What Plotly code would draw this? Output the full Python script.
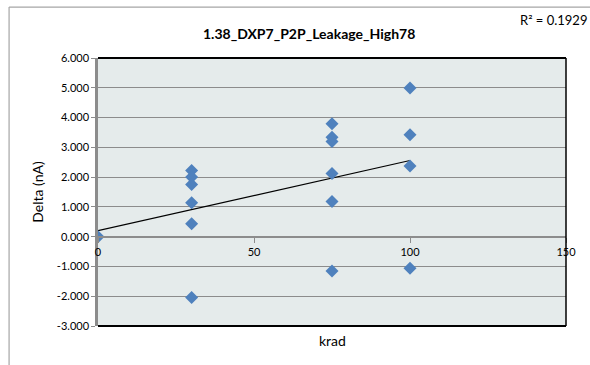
import numpy as np
import plotly.graph_objects as go

# datos
krad = [0, 30, 30, 30, 30, 30, 30, 75, 75, 75, 75, 75, 75, 100, 100, 100, 100]
delta = [0.0, 2.22, 2.0, 1.75, 1.14, 0.43, -2.04,
         3.79, 3.34, 3.2, 2.12, 1.18, -1.15,
         4.99, 3.42, 2.37, -1.06]
y_ticks = [-3, -2, -1, 0, 1, 2, 3, 4, 5, 6]
y_labels = ['-3.000', '-2.000', '-1.000', '0.000', '1.000', '2.000', '3.000', '4.000', '5.000', '6.000']
x_ticks = [0, 50, 100, 150]
titulo = '1.38_DXP7_P2P_Leakage_High78'
r2_texto = 'R² = 0.1929'

# linea de tendencia (minimos cuadrados)
pend, inter = np.polyfit(krad, delta, 1)
x_tend = [min(krad), max(krad)]
y_tend = [inter + pend * x for x in x_tend]

fuente = 'Lato, Open Sans, sans-serif'
gris = '#8c8c8c'

fig = go.Figure()
fig.add_trace(go.Scatter(x=x_tend, y=y_tend, mode='lines',
                         line=dict(color='black', width=1.2), showlegend=False))
fig.add_trace(go.Scatter(x=krad, y=delta, mode='markers',
                         marker=dict(symbol='diamond', size=10, color='#4F81BD'),
                         showlegend=False))

fig.update_layout(
    width=590, height=365,
    margin=dict(l=98, r=24, t=58, b=39),
    paper_bgcolor='white', plot_bgcolor='#e5ebeb',
    font=dict(family=fuente, size=11, color='black'),
    xaxis=dict(range=[0, 150], tickvals=x_ticks, anchor='free', position=1/3,
               showline=True, linecolor=gris, linewidth=2,
               ticks='outside', ticklen=5, tickcolor=gris,
               showgrid=False, zeroline=False, automargin=False),
    yaxis=dict(range=[-3, 6], tickvals=y_ticks, ticktext=y_labels,
               showline=True, linecolor=gris, linewidth=2.5,
               ticks='outside', ticklen=4, tickcolor=gris,
               gridcolor=gris, gridwidth=1, zeroline=False, automargin=False,
               title=dict(text='Delta (nA)', font=dict(size=14), standoff=10)),
    shapes=[
        dict(type='line', xref='paper', yref='paper', x0=0, x1=1, y0=1, y1=1,
             line=dict(color='black', width=2)),
        dict(type='line', xref='paper', yref='paper', x0=0, x1=1, y0=0, y1=0,
             line=dict(color='black', width=2)),
        dict(type='line', xref='paper', yref='paper', x0=1, x1=1, y0=0, y1=1,
             line=dict(color='black', width=1.5)),
        # borde exterior del grafico
        dict(type='line', xref='paper', yref='paper', x0=-0.19, x1=1.06, y0=1.19, y1=1.19,
             line=dict(color='#a6a6a6', width=1.2)),
        dict(type='line', xref='paper', yref='paper', x0=-0.19, x1=-0.19, y0=1.19, y1=-0.15,
             line=dict(color='#a6a6a6', width=1.2)),
    ],
    annotations=[
        dict(text='<b>' + titulo + '</b>', xref='paper', yref='paper', x=0.45, y=1.09,
             xanchor='center', yanchor='middle', showarrow=False, font=dict(size=14)),
        dict(text=r2_texto, xref='paper', yref='paper', x=1.05, y=1.14,
             xanchor='right', yanchor='middle', showarrow=False, font=dict(size=13)),
        dict(text='krad', xref='paper', yref='paper', x=0.5, y=-0.015,
             xanchor='center', yanchor='top', showarrow=False, font=dict(size=14)),
    ],
)

fig.write_html('out.html', config={'displayModeBar': False},
               post_script="document.body.style.margin='0';")
